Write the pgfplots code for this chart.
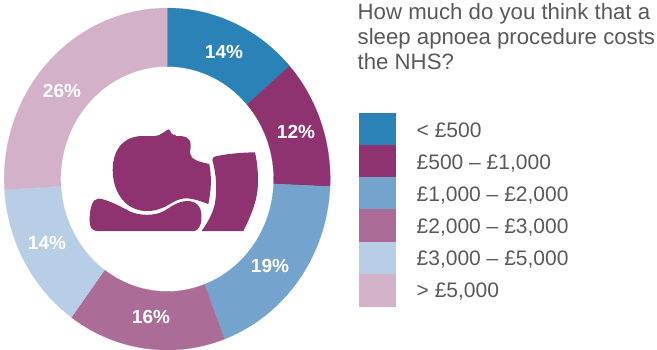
\documentclass[border=0pt]{standalone}
\usepackage{pgfplots}
\pgfplotsset{compat=1.18}
\usepackage{fontspec}
\setmainfont{Liberation Sans}
\definecolor{s1}{HTML}{2A82B7}
\definecolor{s2}{HTML}{8F3370}
\definecolor{s3}{HTML}{74A3CD}
\definecolor{s4}{HTML}{AB6D97}
\definecolor{s5}{HTML}{B8CDE6}
\definecolor{s6}{HTML}{D2B1C9}
\definecolor{txt}{HTML}{595959}
% ring centre and radii, in pixels
\def\cx{167.2}\def\cy{179}\def\rxo{163}\def\ryo{171}\def\rxi{106.5}\def\ryi{112.5}
% one ring segment between two cumulative percentages
\newcommand{\ringseg}[3]{%
  \edef\temp{\noexpand\addplot[fill=#3,draw=#3,line width=0.2pt,samples=40,domain=#1*3.6:#2*3.6,variable=\noexpand\t]
    ({\cx+\rxo*sin(\noexpand\t)},{\cy-\ryo*cos(\noexpand\t)})
    -- plot[samples=40,domain=#2*3.6:#1*3.6,variable=\noexpand\t]
    ({\cx+\rxi*sin(\noexpand\t)},{\cy-\ryi*cos(\noexpand\t)}) -- cycle;}\temp}
\newcommand{\pct}[3]{\node[text=white,font=\fontsize{19bp}{19bp}\selectfont\bfseries] at (#1,#2) {#3\%};}
\newcommand{\swatch}[3]{\fill[#3] (359,#1) rectangle (396,#2);}
\newcommand{\lab}[2]{\node[anchor=base west,inner sep=0pt,text=txt,font=\fontsize{21bp}{21bp}\selectfont] at (416.5,#1) {#2};}
\newcommand{\ttl}[2]{\node[anchor=base west,inner sep=0pt,text=txt,font=\fontsize{22.2bp}{22.2bp}\selectfont] at (357.5,#1) {#2};}
\begin{document}
\begin{tikzpicture}
\begin{axis}[scale only axis,width=657bp,height=350bp,xmin=0,xmax=657,ymin=0,ymax=350,
  y dir=reverse,hide axis,clip=false]
\path[use as bounding box] (0,0) rectangle (657,350);
% shares: 13.5, 12.2, 18.6, 15.7, 14.0, 26.0
\ringseg{0}{13.5}{s1}
\ringseg{13.5}{25.7}{s2}
\ringseg{25.7}{44.3}{s3}
\ringseg{44.3}{60}{s4}
\ringseg{60}{74}{s5}
\ringseg{74}{100}{s6}
\pct{224}{52}{14}
\pct{296}{132}{12}
\pct{270}{266}{19}
\pct{151}{317}{16}
\pct{47}{243}{14}
\pct{62}{91}{26}
% head on a pillow
\fill[s2] (112.7,170) .. controls (112.7,148) and (125,136) .. (143,136) -- (155,136)
  .. controls (160,136) and (165,131) .. (168.3,129.3) .. controls (170,129) and (170.5,131) .. (171,133)
  -- (173,134.5) -- (175,134.5) -- (176,136) -- (178,136) .. controls (185,136) and (190,137) .. (190.7,145)
  .. controls (191,149) and (189.5,151) .. (190,153.5) .. controls (191,160) and (200,162) .. (209.3,164)
  .. controls (212,178) and (211,192) .. (208.3,204) .. controls (200,201) and (195,199) .. (187,198.3)
  .. controls (177,198) and (170,205) .. (162,208) .. controls (150,213) and (138,212) .. (128,205)
  .. controls (118,197) and (112.7,185) .. (112.7,170) -- cycle;
\fill[s2] (89.5,220) .. controls (90,208) and (92,199) .. (98.5,198.5)
  .. controls (106,199) and (120,206) .. (130,211.5) .. controls (140,216) and (155,216) .. (164,211)
  .. controls (172,206) and (178,201.5) .. (187,201) .. controls (196,201) and (201,206) .. (201.5,215)
  .. controls (202,222) and (200,231) .. (193,231) -- (97,231)
  .. controls (92,231) and (89.5,227) .. (89.5,220) -- cycle;
\fill[s2] (212.3,160) .. controls (212.5,157) and (214,156.5) .. (217,156)
  .. controls (230,153.5) and (243,152.5) .. (255,152.3) .. controls (258,165) and (258.5,180) .. (257.5,190)
  .. controls (256,204) and (250,218) .. (243.3,231) -- (201.7,231)
  .. controls (208,222) and (213,213) .. (215,203) .. controls (217.5,188) and (216,173) .. (212.3,160) -- cycle;
% key
\swatch{113}{145}{s1}
\swatch{145}{177}{s2}
\swatch{177}{209}{s3}
\swatch{209}{241.7}{s4}
\swatch{241.7}{274}{s5}
\swatch{274}{306.7}{s6}
\lab{137}{< £500}
\lab{169.3}{£500 – £1,000}
\lab{201.3}{£1,000 – £2,000}
\lab{233}{£2,000 – £3,000}
\lab{265.3}{£3,000 – £5,000}
\lab{297}{> £5,000}
\ttl{19}{How much do you think that a}
\ttl{44.3}{sleep apnoea procedure costs}
\ttl{69.3}{the NHS?}
\end{axis}
\end{tikzpicture}
\end{document}
